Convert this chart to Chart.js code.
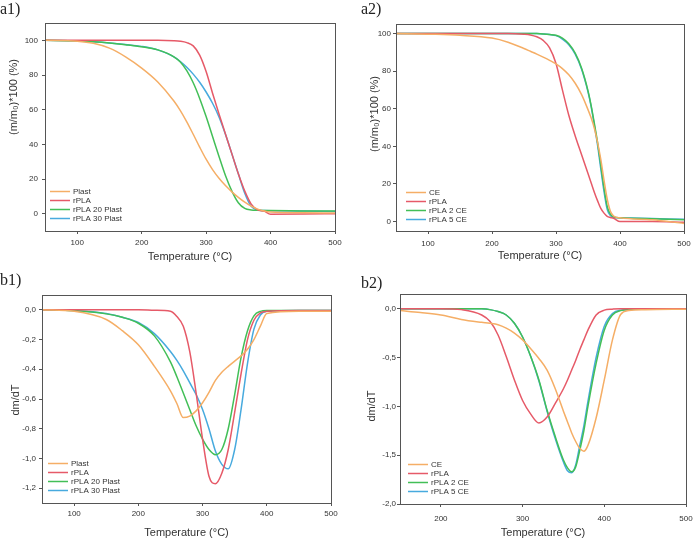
<!DOCTYPE html>
<html>
<head>
<meta charset="utf-8">
<script src="https://cdn.jsdelivr.net/npm/chart.js@4.4.1/dist/chart.umd.min.js"></script>
<style>
  body { margin: 0; background: #fff; width: 693px; height: 540px; position: relative; overflow: hidden; }
  canvas { position: absolute; }
  .tag { position: absolute; font-family: "Liberation Serif", "Times New Roman", serif; font-size: 16px; line-height: 16px; color: #222; }
</style>
</head>
<body>
<canvas id="a1" width="346" height="270" style="left:0;top:0"></canvas>
<canvas id="a2" width="347" height="270" style="left:346px;top:0"></canvas>
<canvas id="b1" width="346" height="270" style="left:0;top:270px"></canvas>
<canvas id="b2" width="347" height="270" style="left:346px;top:270px"></canvas>
<div class="tag" style="left:0;top:1px">a1)</div>
<div class="tag" style="left:361px;top:1px">a2)</div>
<div class="tag" style="left:0;top:272px">b1)</div>
<div class="tag" style="left:361px;top:275px">b2)</div>
<script>
// a1) TGA, plasticizer blends
const a1Temp = [50, 100, 125, 150, 175, 200, 225, 250, 260, 270, 280, 290, 300, 310, 320, 330, 340, 350, 360, 370, 380, 390, 400, 450, 500];
const a1Plast = [100, 99.5, 98.3, 95.5, 90.5, 84, 76, 65, 59.5, 53, 45.8, 38.4, 31.4, 25.4, 20.4, 16.2, 12.6, 9.4, 6.6, 4.3, 2.6, 1.5, 0.9, 0.5, 0.4];
const a1Rpla = [100, 100, 100, 100, 100, 100, 100, 99.8, 99.5, 98.7, 96.8, 91.5, 82, 69.5, 57.5, 46, 34.5, 23, 13, 5.5, 2.2, 1.5, -0.3, -0.2, 0];
const a1Rpla20 = [100, 99.7, 99.2, 98.5, 97.5, 96.3, 94.5, 90.5, 87.5, 82.5, 75.5, 66.5, 56, 44.5, 33, 22, 13, 6.3, 3, 2.1, 1.9, 1.8, 1.8, 1.6, 1.5];
const a1Rpla30 = [100, 99.7, 99.2, 98.5, 97.6, 96.5, 94.5, 90.5, 87.8, 84.5, 80.5, 75.8, 70.2, 63.7, 55.8, 45.8, 34.5, 23, 11.8, 4.2, 2.1, 1.8, 1.7, 1.5, 1.3];

// a2) TGA, CE blends
const a2Temp = [50, 100, 150, 200, 225, 250, 260, 270, 280, 290, 300, 310, 320, 330, 340, 350, 355, 360, 365, 370, 375, 380, 385, 390, 400, 450, 500];
const a2CE = [100, 99.6, 99, 97.5, 95.3, 92, 90.5, 89, 87.4, 85.7, 83.8, 81.3, 78, 73.5, 67.5, 59.5, 55, 49.5, 42, 33, 22, 12, 5.5, 3, 2, 1, -1];
const a2Rpla = [100, 100, 100, 100, 100, 99.6, 99.2, 98.2, 96.3, 92.3, 84, 70, 56.5, 45.5, 35.5, 25.5, 20.5, 15.5, 11, 7, 4.5, 2.8, 2.2, 1.8, 0, 0, -0.3];
const a2Rpla2 = [100, 100, 100, 100, 100, 100, 100, 99.9, 99.7, 99.4, 99, 97.5, 94.5, 89.5, 81.5, 69.5, 61.5, 52, 42, 30, 18, 8, 4, 2.5, 2, 1.5, 1];
const a2Rpla5 = [100, 100, 100, 100, 100, 100, 100, 99.9, 99.7, 99.4, 98.8, 97, 94, 89, 81, 69, 61, 51, 40.5, 28, 16, 6.5, 3.2, 2.2, 2, 1.6, 1.2];

// b1) DTG, plasticizer blends
const b1Temp = [50, 100, 150, 175, 200, 225, 250, 260, 270, 280, 290, 300, 310, 320, 330, 340, 350, 360, 370, 380, 390, 400, 450, 500];
const b1Plast = [0, -0.01, -0.065, -0.14, -0.235, -0.38, -0.545, -0.63, -0.725, -0.715, -0.68, -0.625, -0.555, -0.475, -0.42, -0.38, -0.345, -0.31, -0.265, -0.2, -0.11, -0.025, -0.01, -0.01];
const b1Rpla = [0, 0, 0, 0, 0, -0.003, -0.01, -0.045, -0.11, -0.28, -0.56, -0.87, -1.12, -1.17, -1.1, -0.94, -0.69, -0.43, -0.2, -0.07, -0.02, -0.01, -0.005, -0.005];
const b1Rpla20 = [0, -0.005, -0.027, -0.05, -0.09, -0.175, -0.35, -0.45, -0.56, -0.67, -0.78, -0.87, -0.94, -0.975, -0.94, -0.8, -0.57, -0.32, -0.14, -0.04, -0.01, -0.005, -0.005, -0.005];
const b1Rpla30 = [0, -0.005, -0.025, -0.05, -0.085, -0.16, -0.28, -0.34, -0.41, -0.49, -0.57, -0.67, -0.8, -0.95, -1.04, -1.07, -0.94, -0.67, -0.36, -0.13, -0.035, -0.01, -0.005, -0.005];

// b2) DTG, CE blends
const b2Temp = [150, 175, 200, 225, 250, 260, 270, 280, 290, 300, 310, 320, 330, 340, 350, 355, 360, 365, 370, 375, 380, 390, 400, 410, 420, 430, 450, 500];
const b2CE = [-0.02, -0.04, -0.065, -0.11, -0.14, -0.15, -0.165, -0.2, -0.25, -0.32, -0.41, -0.51, -0.63, -0.82, -1.05, -1.16, -1.27, -1.36, -1.43, -1.46, -1.4, -1.12, -0.73, -0.32, -0.06, -0.02, -0.01, -0.005];
const b2Rpla = [0, 0, 0, -0.01, -0.065, -0.13, -0.27, -0.49, -0.73, -0.94, -1.08, -1.17, -1.11, -0.97, -0.82, -0.73, -0.63, -0.53, -0.42, -0.32, -0.22, -0.065, -0.015, -0.005, 0, 0, 0, 0];
const b2Rpla2 = [0, 0, 0, 0, -0.002, -0.01, -0.03, -0.065, -0.15, -0.29, -0.49, -0.73, -1.04, -1.31, -1.55, -1.63, -1.67, -1.62, -1.45, -1.25, -1.0, -0.56, -0.22, -0.065, -0.02, -0.01, 0, 0];
const b2Rpla5 = [0, 0, 0, 0, -0.002, -0.01, -0.03, -0.065, -0.15, -0.29, -0.49, -0.74, -1.05, -1.33, -1.57, -1.66, -1.68, -1.6, -1.4, -1.2, -0.95, -0.5, -0.18, -0.05, -0.015, -0.01, 0, 0];

// tick labels
const tempTicks = [100, 200, 300, 400, 500];
const b2TempTicks = [200, 300, 400, 500];
const massTicks = [0, 20, 40, 60, 80, 100];
const b1DtgTicks = [0, -0.2, -0.4, -0.6, -0.8, -1.0, -1.2];
const b1DtgLabels = ['0,0', '-0,2', '-0,4', '-0,6', '-0,8', '-1,0', '-1,2'];
const b2DtgTicks = [0, -0.5, -1.0, -1.5, -2.0];
const b2DtgLabels = ['0,0', '-0,5', '-1,0', '-1,5', '-2,0'];

const ORANGE = '#f5ae66';
const RED = '#e65a68';
const GREEN = '#42bf57';
const BLUE = '#47aade';
const FRAME = '#555';
const TEXT = '#333';
const FONT = '"Liberation Sans", Arial, sans-serif';

Chart.defaults.font.family = FONT;
Chart.defaults.color = TEXT;

// frame box, inside legend and rotated y title
const panelDecor = {
  id: 'panelDecor',
  afterDraw(chart, args, opts) {
    const { ctx, chartArea: a } = chart;
    ctx.save();
    ctx.strokeStyle = FRAME;
    ctx.lineWidth = 1;
    ctx.strokeRect(Math.round(a.left) + 0.5, Math.round(a.top) + 0.5, Math.round(a.width), Math.round(a.height));

    ctx.font = '8px ' + FONT;
    ctx.textBaseline = 'middle';
    ctx.textAlign = 'left';
    const sets = chart.data.datasets;
    sets.forEach((ds, i) => {
      const y = Math.round(a.bottom - opts.legendBottom - (sets.length - 1 - i) * 9) + 0.5;
      const x = a.left + opts.legendLeft;
      ctx.strokeStyle = ds.borderColor;
      ctx.lineWidth = 1.5;
      ctx.beginPath();
      ctx.moveTo(x, y);
      ctx.lineTo(x + 20, y);
      ctx.stroke();
      ctx.fillStyle = TEXT;
      ctx.fillText(ds.label, x + 23, y);
    });

    ctx.translate(opts.yTitleX, opts.yTitleY);
    ctx.rotate(-Math.PI / 2);
    ctx.font = '11px ' + FONT;
    ctx.textAlign = 'center';
    ctx.fillStyle = TEXT;
    ctx.fillText(opts.yTitle, 0, 0);
    ctx.restore();
  }
};

function series(temps, vals) {
  return temps.map((t, i) => ({ x: t, y: vals[i] }));
}

function line(label, color, temps, vals) {
  return {
    label, data: series(temps, vals),
    borderColor: color, backgroundColor: color,
    borderWidth: 1.5, pointRadius: 0, cubicInterpolationMode: 'monotone'
  };
}

function panel(id, p) {
  const canvas = document.getElementById(id);
  const W = canvas.width, H = canvas.height;
  const label = p.yLabels ? (v => { const k = p.yTicks.indexOf(v); return k >= 0 ? p.yLabels[k] : v; }) : (v => v);
  new Chart(canvas, {
    type: 'line',
    data: { datasets: p.datasets },
    plugins: [panelDecor],
    options: {
      responsive: false,
      animation: false,
      layout: { padding: { left: 0, top: p.area[1], right: W - p.area[2], bottom: 0 } },
      plugins: {
        legend: { display: false },
        tooltip: { enabled: false },
        panelDecor: {
          legendLeft: p.legend[0], legendBottom: p.legend[1],
          yTitle: p.yTitle, yTitleX: p.yTitlePos[0], yTitleY: p.yTitlePos[1]
        }
      },
      scales: {
        x: {
          type: 'linear', min: p.xRange[0], max: p.xRange[1],
          afterBuildTicks: s => { s.ticks = p.xTicks.map(v => ({ value: v })); },
          afterFit: s => { s.height = H - p.area[3]; s.paddingLeft = 0; s.paddingRight = 0; },
          border: { display: false },
          grid: { drawOnChartArea: false, tickLength: 3, tickColor: FRAME },
          ticks: { padding: p.xPad, font: { size: 8 }, color: TEXT, maxRotation: 0, autoSkip: false },
          title: { display: true, text: 'Temperature (°C)', font: { size: 11 }, color: TEXT, padding: { top: 0, bottom: p.xTitlePad } }
        },
        y: {
          type: 'linear', min: p.yRange[0], max: p.yRange[1],
          afterBuildTicks: s => { s.ticks = p.yTicks.map(v => ({ value: v })); },
          afterFit: s => { s.width = p.area[0]; s.paddingTop = 0; s.paddingBottom = 0; },
          border: { display: false },
          grid: { drawOnChartArea: false, tickLength: 3, tickColor: FRAME },
          ticks: { padding: p.yPad, font: { size: 8 }, color: TEXT, callback: label, autoSkip: false }
        }
      }
    }
  });
}

panel('a1', {
  area: [45, 23, 335, 231],
  xRange: [50, 500], yRange: [-10, 110],
  xTicks: tempTicks, yTicks: massTicks,
  xPad: 4, yPad: 4, xTitlePad: 6,
  yTitle: '(m/m\u2080)*100 (%)', yTitlePos: [14, 97],
  legend: [5, 13],
  datasets: [
    line('Plast', ORANGE, a1Temp, a1Plast),
    line('rPLA', RED, a1Temp, a1Rpla),
    line('rPLA 20 Plast', GREEN, a1Temp, a1Rpla20),
    line('rPLA 30 Plast', BLUE, a1Temp, a1Rpla30)
  ]
});

panel('a2', {
  area: [50, 24, 338, 231],
  xRange: [50, 500], yRange: [-5, 105],
  xTicks: tempTicks, yTicks: massTicks,
  xPad: 5, yPad: 2, xTitlePad: 7,
  yTitle: '(m/m\u2080)*100 (%)', yTitlePos: [29, 114],
  legend: [10, 12],
  datasets: [
    line('CE', ORANGE, a2Temp, a2CE),
    line('rPLA', RED, a2Temp, a2Rpla),
    line('rPLA 2 CE', GREEN, a2Temp, a2Rpla2),
    line('rPLA 5 CE', BLUE, a2Temp, a2Rpla5)
  ]
});

panel('b1', {
  area: [42, 25, 331, 233],
  xRange: [50, 500], yRange: [-1.3, 0.1],
  xTicks: tempTicks, yTicks: b1DtgTicks, yLabels: b1DtgLabels,
  xPad: 3, yPad: 3, xTitlePad: 0,
  yTitle: 'dm/dT', yTitlePos: [16, 130],
  legend: [6, 13],
  datasets: [
    line('Plast', ORANGE, b1Temp, b1Plast),
    line('rPLA', RED, b1Temp, b1Rpla),
    line('rPLA 20 Plast', GREEN, b1Temp, b1Rpla20),
    line('rPLA 30 Plast', BLUE, b1Temp, b1Rpla30)
  ]
});

panel('b2', {
  area: [54, 24, 340, 234],
  xRange: [150, 500], yRange: [-2, 0.15],
  xTicks: b2TempTicks, yTicks: b2DtgTicks, yLabels: b2DtgLabels,
  xPad: 7, yPad: 1, xTitlePad: 0,
  yTitle: 'dm/dT', yTitlePos: [26, 136],
  legend: [8, 13],
  datasets: [
    line('CE', ORANGE, b2Temp, b2CE),
    line('rPLA', RED, b2Temp, b2Rpla),
    line('rPLA 2 CE', GREEN, b2Temp, b2Rpla2),
    line('rPLA 5 CE', BLUE, b2Temp, b2Rpla5)
  ]
});
</script>
</body>
</html>
